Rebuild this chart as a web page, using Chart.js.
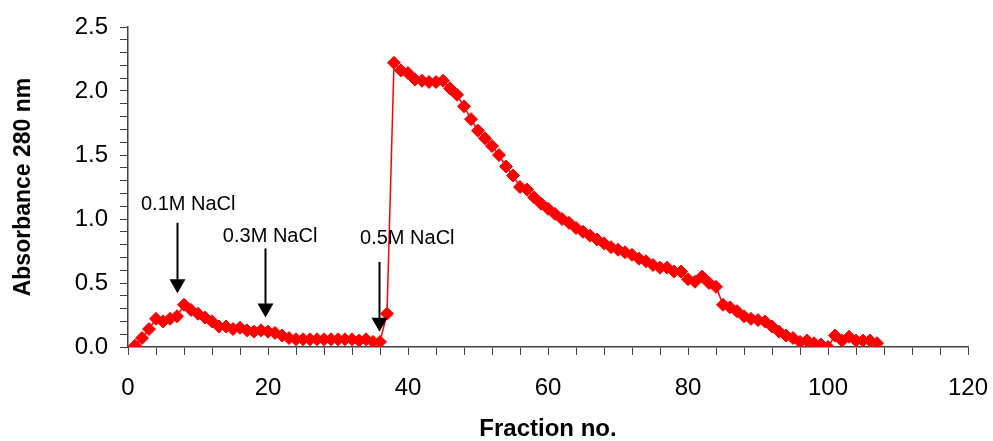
<!DOCTYPE html>
<html>
<head>
<meta charset="utf-8">
<script src="https://cdn.jsdelivr.net/npm/chart.js@4.4.1/dist/chart.umd.min.js"></script>
<style>
  html, body { margin: 0; padding: 0; background: #fff; }
</style>
</head>
<body>
<canvas id="chart" width="993" height="441"></canvas>
<script>
  /* ── data ── */
  var fractions = [
    1, 2, 3, 4, 5, 6, 7, 8, 9, 10, 11, 12, 13, 14, 15, 16, 17, 18, 19, 20,
    21, 22, 23, 24, 25, 26, 27, 28, 29, 30, 31, 32, 33, 34, 35, 36, 37, 38, 39, 40,
    41, 42, 43, 44, 45, 46, 47, 48, 49, 50, 51, 52, 53, 54, 55, 56, 57, 58, 59, 60,
    61, 62, 63, 64, 65, 66, 67, 68, 69, 70, 71, 72, 73, 74, 75, 76, 77, 78, 79, 80,
    81, 82, 83, 84, 85, 86, 87, 88, 89, 90, 91, 92, 93, 94, 95, 96, 97, 98, 99, 100,
    101, 102, 103, 104, 105, 106, 107
  ];
  var absorbance = [
    0.01, 0.07, 0.14, 0.22, 0.20, 0.22, 0.24, 0.33, 0.29, 0.26,
    0.23, 0.20, 0.16, 0.16, 0.14, 0.15, 0.13, 0.12, 0.13, 0.12,
    0.11, 0.09, 0.07, 0.06, 0.06, 0.06, 0.06, 0.06, 0.06, 0.06,
    0.06, 0.06, 0.05, 0.06, 0.04, 0.04, 0.26, 2.22, 2.16, 2.14,
    2.09, 2.08, 2.07, 2.07, 2.08, 2.02, 1.97, 1.88, 1.78, 1.69,
    1.63, 1.57, 1.50, 1.41, 1.34, 1.25, 1.23, 1.17, 1.12, 1.08,
    1.04, 1.00, 0.97, 0.93, 0.90, 0.87, 0.84, 0.81, 0.78, 0.76,
    0.74, 0.72, 0.69, 0.67, 0.64, 0.62, 0.62, 0.59, 0.59, 0.53,
    0.51, 0.55, 0.50, 0.47, 0.33, 0.31, 0.28, 0.24, 0.22, 0.21,
    0.20, 0.16, 0.12, 0.09, 0.07, 0.04, 0.05, 0.03, 0.02, 0.00,
    0.09, 0.05, 0.08, 0.05, 0.05, 0.05, 0.03
  ];

  var xMajor = [0, 20, 40, 60, 80, 100, 120];
  var yMajor = [0, 0.5, 1.0, 1.5, 2.0, 2.5];

  // salt step annotations (text + arrow, in data units)
  var steps = [
    { text: '0.1M NaCl', tx: 8.6, ty: 1.11, ax: 7, top: 0.97, tip: 0.42 },
    { text: '0.3M NaCl', tx: 20.3, ty: 0.86, ax: 19.6, top: 0.77, tip: 0.23 },
    { text: '0.5M NaCl', tx: 39.9, ty: 0.85, ax: 35.9, top: 0.665, tip: 0.12 }
  ];

  var FONT = "'Liberation Sans', Arial, sans-serif";
  var AXIS = '#404040';

  var points = fractions.map(function (f, i) {
    return { x: f, y: absorbance[i] };
  });

  /* ── arrows and labels ── */
  var stepPlugin = {
    id: 'saltSteps',
    afterDatasetsDraw: function (chart) {
      var ctx = chart.ctx;
      var xs = chart.scales.x;
      var ys = chart.scales.y;
      ctx.save();
      ctx.fillStyle = '#000';
      ctx.strokeStyle = '#000';
      ctx.font = '20px ' + FONT;
      ctx.textAlign = 'center';
      ctx.textBaseline = 'middle';
      steps.forEach(function (s) {
        ctx.fillText(s.text, xs.getPixelForValue(s.tx), ys.getPixelForValue(s.ty));

        var x = Math.round(xs.getPixelForValue(s.ax)) + 0.5;
        var yTop = ys.getPixelForValue(s.top);
        var yTip = ys.getPixelForValue(s.tip);
        var headH = 14, headW = 8;
        ctx.lineWidth = 2;
        ctx.beginPath();
        ctx.moveTo(x, yTop);
        ctx.lineTo(x, yTip - headH + 1);
        ctx.stroke();
        ctx.beginPath();
        ctx.moveTo(x - headW, yTip - headH);
        ctx.lineTo(x + headW, yTip - headH);
        ctx.lineTo(x, yTip);
        ctx.closePath();
        ctx.fill();
      });
      ctx.restore();
    }
  };

  new Chart(document.getElementById('chart'), {
    type: 'scatter',
    data: {
      datasets: [
        {
          data: points,
          showLine: true,
          borderColor: '#ff0000',
          backgroundColor: '#ff0000',
          borderWidth: 1.5,
          pointStyle: 'rectRot',
          pointRadius: 6.5,
          pointBorderWidth: 1,
          pointHoverRadius: 6.5,
          tension: 0
        }
      ]
    },
    options: {
      responsive: false,
      animation: false,
      events: [],
      layout: {
        autoPadding: false,
        padding: { top: 27, right: 25, left: 0, bottom: 0 }
      },
      plugins: {
        legend: { display: false },
        tooltip: { enabled: false }
      },
      scales: {
        x: {
          type: 'linear',
          min: 0,
          max: 120,
          afterFit: function (scale) {
            scale.height = 94;
            scale.paddingLeft = 0;
            scale.paddingRight = 0;
          },
          border: { display: true, color: AXIS, width: 1.5 },
          grid: {
            display: true,
            drawOnChartArea: false,
            drawTicks: true,
            tickLength: 8,
            color: AXIS,
            lineWidth: 1
          },
          ticks: {
            stepSize: 4,
            autoSkip: false,
            maxRotation: 0,
            padding: 19,
            color: '#000',
            font: { family: FONT, size: 24 },
            callback: function (v) {
              return xMajor.indexOf(v) >= 0 ? String(v) : '';
            }
          },
          title: {
            display: true,
            text: 'Fraction no.',
            color: '#000',
            font: { family: FONT, size: 24, weight: 'bold' },
            padding: { top: 0, bottom: -3 }
          }
        },
        y: {
          min: 0,
          max: 2.5,
          afterFit: function (scale) {
            scale.width = 128;
            scale.paddingTop = 0;
            scale.paddingBottom = 0;
          },
          border: { display: true, color: AXIS, width: 1.5 },
          grid: {
            display: true,
            drawOnChartArea: false,
            drawTicks: true,
            tickLength: 8,
            color: AXIS,
            lineWidth: 1
          },
          ticks: {
            stepSize: 0.1,
            autoSkip: false,
            padding: 12,
            color: '#000',
            font: { family: FONT, size: 24 },
            callback: function (v) {
              var r = Math.round(v * 10) / 10;
              return yMajor.indexOf(r) >= 0 ? r.toFixed(1) : '';
            }
          },
          title: {
            display: true,
            text: 'Absorbance 280 nm',
            color: '#000',
            font: { family: FONT, size: 23, weight: 'bold' },
            padding: { top: 10, bottom: 0 }
          }
        }
      }
    },
    plugins: [stepPlugin]
  });
</script>
</body>
</html>
